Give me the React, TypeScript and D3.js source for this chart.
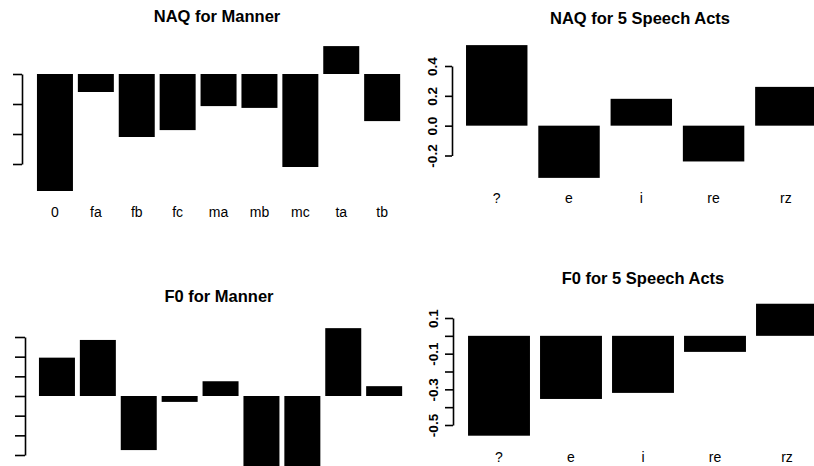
import React, { useEffect, useRef } from "react";
import * as d3 from "d3";

// categories
const mannerCats = ["0", "fa", "fb", "fc", "ma", "mb", "mc", "ta", "tb"];
const actCats = ["?", "e", "i", "re", "rz"];

// values
const naqManner = [-0.39, -0.06, -0.21, -0.187, -0.107, -0.113, -0.31, 0.093, -0.157];
const naqActs = [0.54, -0.35, 0.18, -0.24, 0.26];
const f0Manner = [1.95, 2.85, -2.75, -0.3, 0.75, -3.6, -3.8, 3.45, 0.5];
const f0Acts = [-0.56, -0.354, -0.32, -0.09, 0.18];

// ticks
const naqMannerTicks = [0, -0.1, -0.2, -0.3];
const naqActTicks = [-0.2, 0, 0.2, 0.4];
const f0MannerTicks = [3, 2, 1, 0, -1, -2, -3];
const f0ActTicks = [0.1, 0, -0.1, -0.2, -0.3, -0.4, -0.5];
const f0ActLabels = [0.1, -0.1, -0.3, -0.5];

const FONT = "'Liberation Sans', Arial, sans-serif";

const panels = [
  {
    title: "NAQ for Manner", titleX: 217, titleY: 22,
    cats: mannerCats, values: naqManner, xRange: [34.5, 402.6], pad: 0.12,
    yDomain: [0, -0.3], yRange: [74, 164], axisX: 22, tickLen: 9,
    ticks: naqMannerTicks, labels: [] as number[], catY: 217, showCats: true,
  },
  {
    title: "NAQ for 5 Speech Acts", titleX: 640, titleY: 24,
    cats: actCats, values: naqActs, xRange: [460.6, 822], pad: 0.15,
    yDomain: [-0.2, 0.4], yRange: [155.5, 66], axisX: 452, tickLen: 7,
    ticks: naqActTicks, labels: naqActTicks, catY: 203, showCats: true,
  },
  {
    title: "F0 for Manner", titleX: 219, titleY: 302,
    cats: mannerCats, values: f0Manner, xRange: [36.5, 404.6], pad: 0.12,
    yDomain: [-3, 3], yRange: [455, 337], axisX: 25, tickLen: 10,
    ticks: f0MannerTicks, labels: [] as number[], catY: 490, showCats: false,
  },
  {
    title: "F0 for 5 Speech Acts", titleX: 643, titleY: 284,
    cats: actCats, values: f0Acts, xRange: [463, 823], pad: 0.14,
    yDomain: [-0.5, 0.1], yRange: [425, 318], axisX: 453, tickLen: 8,
    ticks: f0ActTicks, labels: f0ActLabels, catY: 462, showCats: true,
  },
];

const App = () => {
  const svgRef = useRef<SVGSVGElement>(null);

  useEffect(() => {
    const width = 814;
    const height = 466;
    const svg = d3.select(svgRef.current);
    svg.selectAll("*").remove();

    svg.append("rect").attr("width", width).attr("height", height).attr("fill", "#fff");

    panels.forEach((p) => {
      const g = svg.append("g");

      const x = d3
        .scaleBand()
        .domain(p.cats)
        .range(p.xRange as [number, number])
        .paddingInner(p.pad)
        .paddingOuter(p.pad / 2);

      const y = d3.scaleLinear().domain(p.yDomain).range(p.yRange);

      // bars
      g.selectAll("rect.bar")
        .data(p.values)
        .join("rect")
        .attr("class", "bar")
        .attr("x", (d, i) => x(p.cats[i])!)
        .attr("width", x.bandwidth())
        .attr("y", (d) => Math.min(y(d), y(0)))
        .attr("height", (d) => Math.abs(y(d) - y(0)))
        .attr("fill", "#000");

      // y axis, R style: labels rotated, plain hyphen minus
      const axis = g
        .append("g")
        .attr("transform", `translate(${p.axisX},0)`)
        .call(
          d3
            .axisLeft(y)
            .tickValues(p.ticks)
            .tickSize(p.tickLen)
            .tickSizeOuter(0)
            .tickFormat((d) => (p.labels.includes(d as number) ? (d as number).toFixed(1) : ""))
        );
      axis.select(".domain").attr("stroke", "#000").attr("stroke-width", 1.6);
      axis.selectAll(".tick line").attr("stroke", "#000").attr("stroke-width", 1.6);
      axis
        .selectAll(".tick text")
        .attr("transform", "rotate(-90)")
        .attr("x", 0)
        .attr("y", -15)
        .attr("dy", 0)
        .attr("text-anchor", "middle")
        .attr("fill", "#000")
        .style("font-family", FONT)
        .style("font-size", "13.5px")
        .style("font-weight", "bold");

      // category labels
      if (p.showCats) {
        g.selectAll("text.cat")
          .data(p.cats)
          .join("text")
          .attr("class", "cat")
          .attr("x", (d) => x(d)! + x.bandwidth() / 2)
          .attr("y", p.catY)
          .attr("text-anchor", "middle")
          .style("font-family", FONT)
          .style("font-size", "14px")
          .text((d) => d);
      }

      // title
      g.append("text")
        .attr("x", p.titleX)
        .attr("y", p.titleY)
        .attr("text-anchor", "middle")
        .style("font-family", FONT)
        .style("font-size", "16.5px")
        .style("font-weight", "bold")
        .text(p.title);
    });
  }, []);

  return (
    <div id="app">
      <svg
        ref={svgRef}
        width={814}
        height={466}
        viewBox="0 0 814 466"
        style={{ position: "absolute", left: 0, top: 0, display: "block" }}
      ></svg>
    </div>
  );
};

export default App;
